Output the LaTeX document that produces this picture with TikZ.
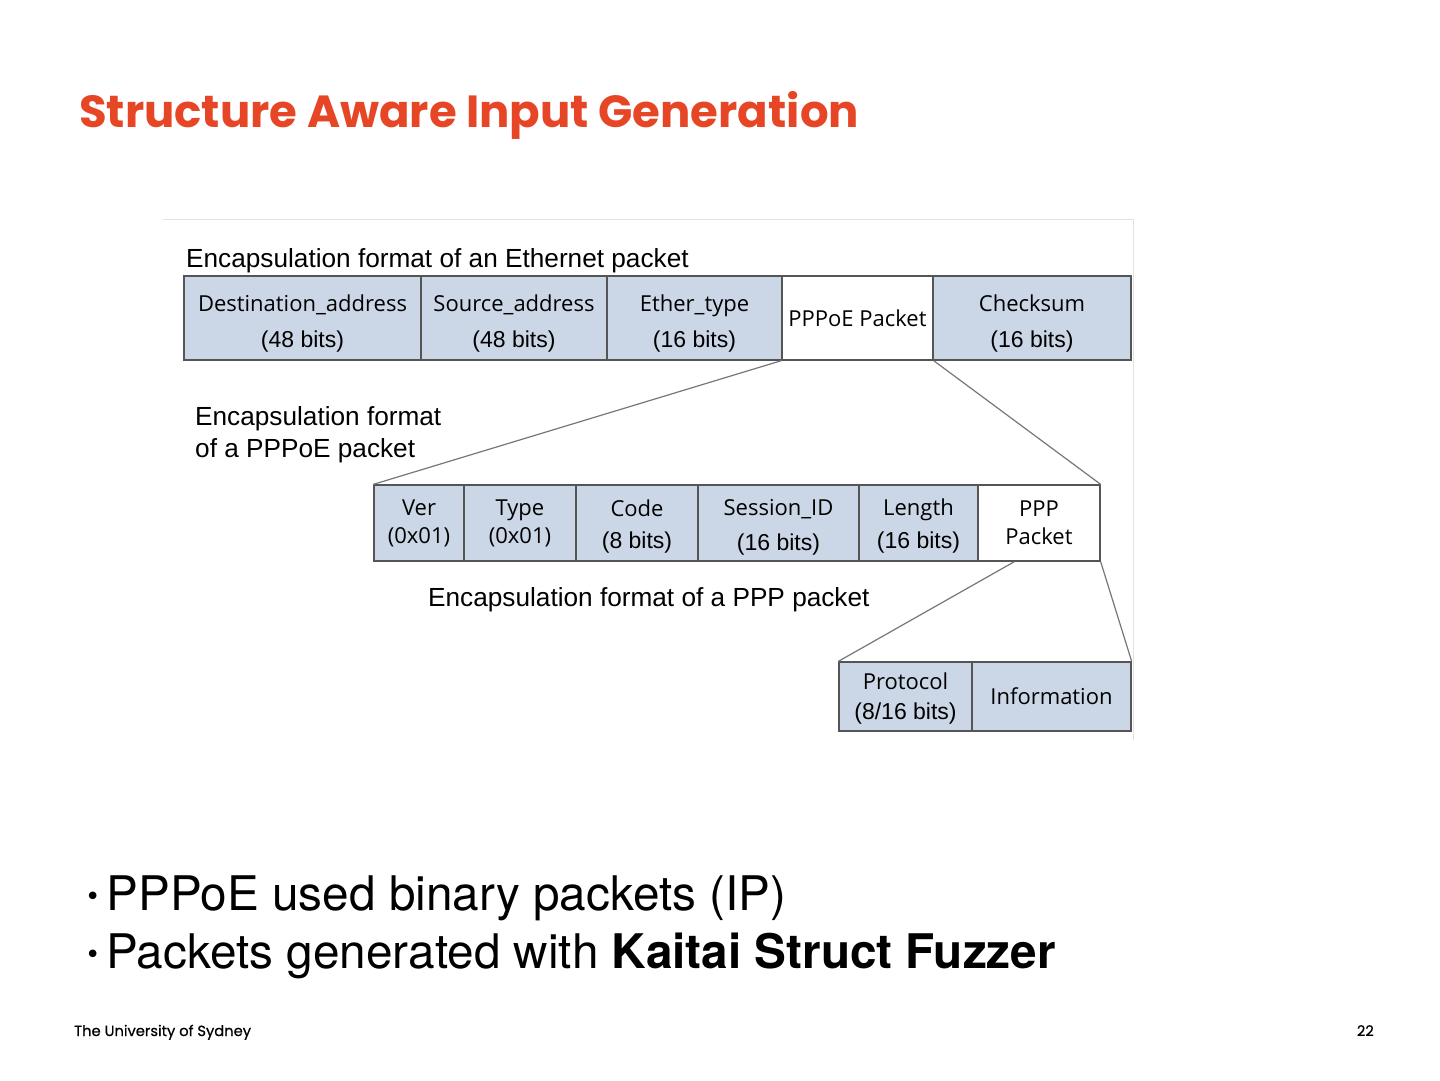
\documentclass[tikz,border=0pt]{standalone}
\usepackage{fontspec}
\setmainfont{Liberation Sans}
\newfontfamily\titlefont{Poppins}
\newfontfamily\footfont{Poppins}[FakeBold=0.6]
\newfontfamily\boxfont{Open Sans}
\newfontfamily\bulfont{TeX Gyre Heros}
\newfontfamily\bulletfont{DejaVu Sans}
\definecolor{usydred}{HTML}{E64626}
\definecolor{boxfill}{HTML}{CBD7E6}
\definecolor{boxline}{HTML}{555555}
\definecolor{frameline}{HTML}{E2E2E2}
\newcommand\twolines[3]{\raisebox{#1}[0pt][0pt]{\begin{tabular}{@{}c@{}}#2\\#3\end{tabular}}}
\newcommand\bul{{\bulletfont\fontsize{26}{30}\selectfont\raisebox{5pt}{•}}\hspace{6pt}}
\begin{document}
\begin{tikzpicture}[x=1pt,y=-1pt,
  fbox/.style={draw=boxline, line width=1.3pt, fill=boxfill, inner sep=0pt, align=center,
    font=\fontsize{23}{36}\selectfont},
  wbox/.style={fbox, fill=white},
  captext/.style={inner sep=0pt, anchor=base west, font=\fontsize{26.2}{32}\selectfont, align=left},
  conn/.style={draw=boxline!80, line width=1.2pt}
]
\path[fill=white, use as bounding box] (0,0) rectangle (1440,1080);
% title
\node[inner sep=0pt, anchor=base west, text=usydred, font=\titlefont\bfseries\fontsize{45}{56}\selectfont] (title) at (79,127) {Structure Aware Input Generation};
% diagram frame
\draw[frameline, line width=1pt] (163,219) -- (1133,219) -- (1133,740);
% captions
\node[captext] (capeth) at (186,267) {Encapsulation format of an Ethernet packet};
\node[captext] (cappppoe) at (195,425) {Encapsulation format};
\node[captext] (cappppoe2) at (195,457) {of a PPPoE packet};
\node[captext] (capppp) at (428,606) {Encapsulation format of a PPP packet};
% Ethernet row (y 276-360)
\node[fbox, minimum width=237pt, minimum height=84pt] (dst) at (302.5,318) {\twolines{-10.5pt}{{\boxfont\fontsize{22}{36}\selectfont Destination\_address}}{(48 bits)}};
\node[fbox, minimum width=186pt, minimum height=84pt] (src) at (514,318) {\twolines{-10.5pt}{{\boxfont\fontsize{22}{36}\selectfont Source\_address}}{(48 bits)}};
\node[fbox, minimum width=175pt, minimum height=84pt] (etype) at (694.5,318) {\twolines{-10.5pt}{{\boxfont\fontsize{22}{36}\selectfont Ether\_type}}{(16 bits)}};
\node[wbox, minimum width=151pt, minimum height=84pt, font=\boxfont\fontsize{22}{36}\selectfont] (pppoe) at (857.5,318) {PPPoE Packet};
\node[fbox, minimum width=198pt, minimum height=84pt] (csum) at (1032,318) {\twolines{-10.5pt}{{\boxfont\fontsize{22}{36}\selectfont Checksum}}{(16 bits)}};
% PPPoE row (y 485-561)
\node[fbox, minimum width=90pt, minimum height=76pt, font=\boxfont\fontsize{22}{28}\selectfont] (ver) at (419,523) {Ver\\(0x01)};
\node[fbox, minimum width=112pt, minimum height=76pt, font=\boxfont\fontsize{22}{28}\selectfont] (type) at (520,523) {Type\\(0x01)};
\node[fbox, minimum width=122pt, minimum height=76pt, font=\fontsize{23}{32}\selectfont] (code) at (637,523) {\twolines{-9pt}{{\boxfont\fontsize{22}{32}\selectfont Code}}{(8 bits)}};
\node[fbox, minimum width=161pt, minimum height=76pt, font=\fontsize{23}{35}\selectfont] (sess) at (778.5,523) {\twolines{-9.5pt}{{\boxfont\fontsize{22}{35}\selectfont Session\_ID}}{(16 bits)}};
\node[fbox, minimum width=119pt, minimum height=76pt, font=\fontsize{23}{33}\selectfont] (len) at (918.5,523) {\twolines{-9pt}{{\boxfont\fontsize{22}{33}\selectfont Length}}{(16 bits)}};
\node[wbox, minimum width=122pt, minimum height=76pt, font=\boxfont\fontsize{22}{28}\selectfont] (pppk) at (1039,523) {PPP\\Packet};
% PPP row (y 662-731)
\node[fbox, minimum width=133pt, minimum height=69pt, font=\fontsize{23}{30}\selectfont] (proto) at (905.5,696.5) {\twolines{-8.5pt}{{\boxfont\fontsize{22}{30}\selectfont Protocol}}{(8/16 bits)}};
\node[fbox, minimum width=159pt, minimum height=69pt, font=\boxfont\fontsize{22}{30}\selectfont] (info) at (1051.5,696.5) {Information};
% connectors
\draw[conn] (pppoe.south west) -- (ver.north west);
\draw[conn] (pppoe.south east) -- (pppk.north east);
\draw[conn] ([xshift=37pt]pppk.south west) -- (proto.north west);
\draw[conn] (pppk.south east) -- (info.north east);
% bullets
\node[inner sep=0pt, anchor=base west, font=\bulfont\fontsize{47.7}{60}\selectfont] (b1) at (85,910) {\bul PPPoE used binary packets (IP)};
\node[inner sep=0pt, anchor=base west, font=\bulfont\fontsize{47.7}{60}\selectfont] (b2) at (85,968) {\bul Packets generated with \textbf{Kaitai Struct Fuzzer}};
% footer
\node[inner sep=0pt, anchor=base west, font=\footfont\fontsize{14.7}{18}\selectfont] (foot) at (74,1036) {The University of Sydney};
\node[inner sep=0pt, anchor=base east, font=\footfont\fontsize{14.7}{18}\selectfont] (pnum) at (1374,1036) {22};
\end{tikzpicture}
\end{document}
